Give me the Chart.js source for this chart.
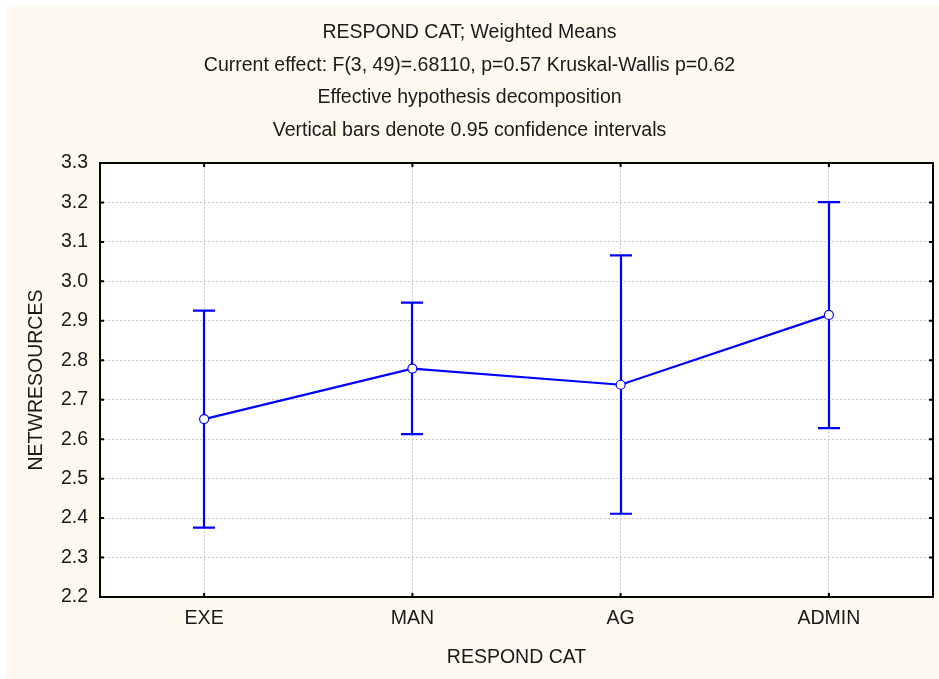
<!DOCTYPE html>
<html>
<head>
<meta charset="utf-8">
<script src="https://cdn.jsdelivr.net/npm/chart.js@4"></script>
<style>
  html, body { margin: 0; padding: 0; background: #ffffff; }
  #wrap { width: 939px; height: 679px; }
</style>
</head>
<body>
<div id="wrap"><canvas id="chart" width="939" height="679"></canvas></div>
<script>
const categories = ["EXE", "MAN", "AG", "ADMIN"];
const means = [2.651, 2.779, 2.738, 2.915];
const lowerCI = [2.376, 2.613, 2.411, 2.628];
const upperCI = [2.926, 2.946, 3.066, 3.201];
const titleLines = [
    "RESPOND CAT; Weighted Means",
    "Current effect: F(3, 49)=.68110, p=0.57 Kruskal-Wallis p=0.62",
    "Effective hypothesis decomposition",
    "Vertical bars denote 0.95 confidence intervals"
];

const FONT = "'Liberation Sans', Arial, sans-serif";
const FSIZE = 19.5;
const BLUE = "#0000ff";

// cream background, title block, frame with inward ticks, error bars
const decorPlugin = {
    id: "decor",
    beforeDraw(chart) {
        const ctx = chart.ctx;
        ctx.save();
        ctx.fillStyle = "#fdf9ee";
        ctx.fillRect(6, 6, chart.width - 6, chart.height - 6);
        const a = chart.chartArea;
        ctx.fillStyle = "#ffffff";
        ctx.fillRect(a.left, a.top, a.right - a.left, a.bottom - a.top);
        ctx.fillStyle = "#1a1a1a";
        ctx.font = FSIZE + "px " + FONT;
        ctx.textAlign = "center";
        ctx.textBaseline = "middle";
        titleLines.forEach((t, i) => {
            ctx.fillText(t, chart.width / 2, 33 + i * 32.5);
        });
        ctx.restore();
    },
    beforeDatasetsDraw(chart) {
        const ctx = chart.ctx;
        const x = chart.scales.x, y = chart.scales.y;
        ctx.save();
        ctx.strokeStyle = BLUE;
        ctx.lineWidth = 2.2;
        categories.forEach((c, i) => {
            const px = Math.round(x.getPixelForValue(i));
            const yl = y.getPixelForValue(lowerCI[i]);
            const yu = y.getPixelForValue(upperCI[i]);
            ctx.beginPath();
            ctx.moveTo(px, yl);
            ctx.lineTo(px, yu);
            ctx.moveTo(px - 11, yl);
            ctx.lineTo(px + 11, yl);
            ctx.moveTo(px - 11, yu);
            ctx.lineTo(px + 11, yu);
            ctx.stroke();
        });
        ctx.restore();
    },
    afterDatasetsDraw(chart) {
        const ctx = chart.ctx;
        const a = chart.chartArea;
        const x = chart.scales.x, y = chart.scales.y;
        ctx.save();
        ctx.strokeStyle = "#000000";
        ctx.lineWidth = 2;
        ctx.strokeRect(a.left, a.top, a.right - a.left, a.bottom - a.top);
        ctx.beginPath();
        y.ticks.forEach((t, i) => {
            const py = y.getPixelForTick(i);
            ctx.moveTo(a.left, py);
            ctx.lineTo(a.left + 4, py);
            ctx.moveTo(a.right, py);
            ctx.lineTo(a.right - 4, py);
        });
        x.ticks.forEach((t, i) => {
            const px = x.getPixelForTick(i);
            ctx.moveTo(px, a.top);
            ctx.lineTo(px, a.top + 4);
            ctx.moveTo(px, a.bottom);
            ctx.lineTo(px, a.bottom - 4);
        });
        ctx.stroke();
        ctx.restore();
    }
};

new Chart(document.getElementById("chart").getContext("2d"), {
    type: "line",
    data: {
        labels: categories,
        datasets: [{
            data: means,
            borderColor: BLUE,
            borderWidth: 2.2,
            pointRadius: 4.5,
            pointHoverRadius: 4.5,
            pointBackgroundColor: "#ffffff",
            pointBorderColor: BLUE,
            pointBorderWidth: 1.2,
            tension: 0
        }]
    },
    options: {
        responsive: false,
        animation: false,
        layout: { padding: { left: 0, right: 6, top: 163, bottom: 0 } },
        plugins: {
            legend: { display: false },
            title: { display: false },
            tooltip: { enabled: false }
        },
        scales: {
            x: {
                offset: true,
                afterFit(s) { s.height = 82; },
                grid: { color: "#c8c8c8", lineWidth: 1, drawTicks: false },
                border: { display: false, dash: [2, 2] },
                ticks: { color: "#1a1a1a", font: { family: FONT, size: FSIZE }, padding: 10 },
                title: {
                    display: true,
                    text: "RESPOND CAT",
                    color: "#1a1a1a",
                    font: { family: FONT, size: FSIZE },
                    padding: { top: 10, bottom: 10 }
                }
            },
            y: {
                min: 2.2,
                max: 3.3,
                afterFit(s) { s.width = 100; },
                grid: { color: "#c8c8c8", lineWidth: 1, drawTicks: false },
                border: { display: false, dash: [2, 2] },
                ticks: {
                    stepSize: 0.1,
                    color: "#1a1a1a",
                    font: { family: FONT, size: FSIZE },
                    padding: 12,
                    callback: v => v.toFixed(1)
                },
                title: {
                    display: true,
                    text: "NETWRESOURCES",
                    color: "#1a1a1a",
                    font: { family: FONT, size: FSIZE },
                    padding: { top: 25, bottom: 0 }
                }
            }
        }
    },
    plugins: [decorPlugin]
});
</script>
</body>
</html>
